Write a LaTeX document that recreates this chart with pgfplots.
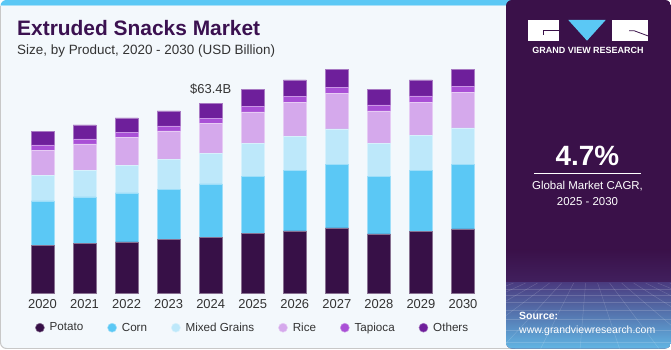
\documentclass[border=0pt]{standalone}
\usepackage{pgfplots}
\pgfplotsset{compat=1.18}
\usepackage{pgfplotstable}
\usepackage{fontspec}
\setmainfont{Liberation Sans}
\definecolor{cPotato}{HTML}{371047}
\definecolor{cCorn}{HTML}{5BC8F5}
\definecolor{cMixed}{HTML}{BDE8FA}
\definecolor{cRice}{HTML}{D5A9EC}
\definecolor{cTapioca}{HTML}{A950D6}
\definecolor{cOthers}{HTML}{6E1F9B}
\definecolor{cTitle}{HTML}{3B1150}
\definecolor{cText}{HTML}{333333}
\definecolor{cBg}{HTML}{F3F8FC}
\definecolor{cBorder}{HTML}{C8C8C8}
\definecolor{cStrip}{HTML}{5BC8F5}
\definecolor{cStripLight}{HTML}{A8E0F8}
\definecolor{cPanel}{HTML}{3A1149}
\definecolor{cPanelMid}{HTML}{41205E}
\definecolor{cPanelMidB}{HTML}{4A3C80}
\definecolor{cPanelLow}{HTML}{62B8E6}

\pgfplotstableread{
year potato corn mixed rice tapioca others
2020 15.9 14.8 8.6 8.4 1.7 4.6
2021 16.6 15.5 8.8 8.9 1.6 4.7
2022 17.1 16.3 9.3 9.2 1.8 4.7
2023 17.9 16.8 9.9 9.5 1.7 5.0
2024 18.5 17.9 10.1 10.0 1.8 5.1
2025 19.9 18.9 11.1 10.5 1.9 5.6
2026 20.7 20.1 11.5 11.2 2.0 5.6
2027 21.7 21.1 12.0 11.8 2.1 5.9
2028 19.7 19.1 11.2 10.8 2.0 5.1
2029 20.5 20.4 11.6 11.2 2.1 5.3
2030 21.4 21.4 12.3 11.8 2.1 5.7
}\data

\begin{document}
\begin{tikzpicture}
\path[use as bounding box] (0,0) rectangle (671bp,350bp);
\begin{scope}[x=1bp,y=1bp]
\fill[white] (0,0) rectangle (671,350);
% left card
\begin{scope}
\clip[rounded corners=6] (0.5,1.5) rectangle (530,350);
\fill[cBg] (0,0) rectangle (530,350);
\fill[cStrip] (0,345) rectangle (530,350);
\fill[cStripLight] (0,344) rectangle (530,345);
\end{scope}
\draw[cBorder, line width=1, rounded corners=6] (0.5,344) -- (0.5,1.5) -- (515,1.5);
% right panel
\begin{scope}
\clip[rounded corners=6] (506,1.5) rectangle (671,350);
\fill[cPanel] (506,0) rectangle (671,350);
\shade[top color=cPanel, bottom color=cPanelMid] (506,67) rectangle (671,100);
\shade[top color=cPanelMidB, bottom color=cPanelLow] (506,0) rectangle (671,67);
\foreach \yy in {61,55,48,40,31,20,8}
  \draw[white, opacity=0.16, line width=0.5] (506,\yy) -- (671,\yy);
\foreach \xx in {300,340,...,880}
  \draw[white, opacity=0.16, line width=0.5] ({588+(\xx-588)*0.3},67) -- (\xx,0);
\end{scope}
% logo
\fill[white] (527.7,309.3) rectangle (559.3,330);
\draw[cPanel, line width=0.8] (559.3,319.3) -- (543,319.3) -- (543,314.5);
\fill[cStrip] (568.3,330) -- (605.7,330) -- (587,309.3) -- cycle;
\fill[white] (611.7,309.3) rectangle (648.3,330);
\draw[cPanel, line width=0.8] (629,319.3) -- (634,319.3) -- (648.3,314);
\node[white, font=\bfseries\fontsize{9}{9}\selectfont, anchor=base] at (588,296.5) {GRAND VIEW RESEARCH};
% CAGR
\node[white, font=\bfseries\fontsize{28}{28}\selectfont, anchor=base] at (587.5,184.3) {4.7\%};
\draw[white, line width=1] (534.3,176.7) -- (640.7,176.7);
\node[white, font=\fontsize{11.5}{11.5}\selectfont, anchor=base] at (587.5,160.8) {Global Market CAGR,};
\node[white, font=\fontsize{11.5}{11.5}\selectfont, anchor=base] at (587.5,144.8) {2025 - 2030};
% source
\node[white, font=\bfseries\fontsize{10.5}{10.5}\selectfont, anchor=base west, inner sep=0] at (519,31) {Source:};
\node[white, font=\fontsize{10.5}{10.5}\selectfont, anchor=base west, inner sep=0] at (519,16.3) {www.grandviewresearch.com};
% titles
\node[cTitle, font=\bfseries\fontsize{21}{21}\selectfont, anchor=base west, inner sep=0] at (17,315) {Extruded Snacks Market};
\node[cText, font=\fontsize{13.5}{13.5}\selectfont, anchor=base west, inner sep=0] at (17,295.7) {Size, by Product, 2020 - 2030 (USD Billion)};
\end{scope}

\begin{axis}[
  at={(0.45bp,57bp)}, anchor=south west,
  scale only axis, width=504.6bp, height=233bp,
  xmin=2019, xmax=2031, ymin=0, ymax=77.75,
  clip=false,
  ybar stacked, bar width=23bp,
  axis line style={draw=none},
  major tick length=0pt,
  ytick=\empty,
  xtick={2020,2021,2022,2023,2024,2025,2026,2027,2028,2029,2030},
  xticklabels={2020,2021,2022,2023,2024,2025,2026,2027,2028,2029,2030},
  xticklabel style={font=\fontsize{13}{13}\selectfont, text=cText, anchor=base, yshift=-15.3bp},
  legend columns=6,
  legend style={draw=none, fill=none, at={(0.0625,-0.149)}, anchor=west,
    font=\fontsize{11.7}{12}\selectfont, text=cText,
    /tikz/every even column/.append style={column sep=22bp},
    /tikz/every odd column/.append style={column sep=3bp}},
  legend image code/.code={\fill[#1] (4.5bp,0bp) circle (4.5bp);},
]
\addplot[fill=cPotato, draw=cPotato!60!white, line width=0.5bp] table[x=year,y=potato]{\data};
\addplot[fill=cCorn, draw=cCorn!60!white, line width=0.5bp] table[x=year,y=corn]{\data};
\addplot[fill=cMixed, draw=cMixed!60!white, line width=0.5bp] table[x=year,y=mixed]{\data};
\addplot[fill=cRice, draw=cRice!60!white, line width=0.5bp] table[x=year,y=rice]{\data};
\addplot[fill=cTapioca, draw=cTapioca!60!white, line width=0.5bp] table[x=year,y=tapioca]{\data};
\addplot[fill=cOthers, draw=cOthers!60!white, line width=0.5bp] table[x=year,y=others]{\data};
\legend{Potato,Corn,Mixed Grains,Rice,Tapioca,Others}
\node[anchor=base, font=\fontsize{13}{13}\selectfont, text=cText, yshift=9.7bp] at (axis cs:2024,63.4) {\$63.4B};
\end{axis}
\end{tikzpicture}
\end{document}
